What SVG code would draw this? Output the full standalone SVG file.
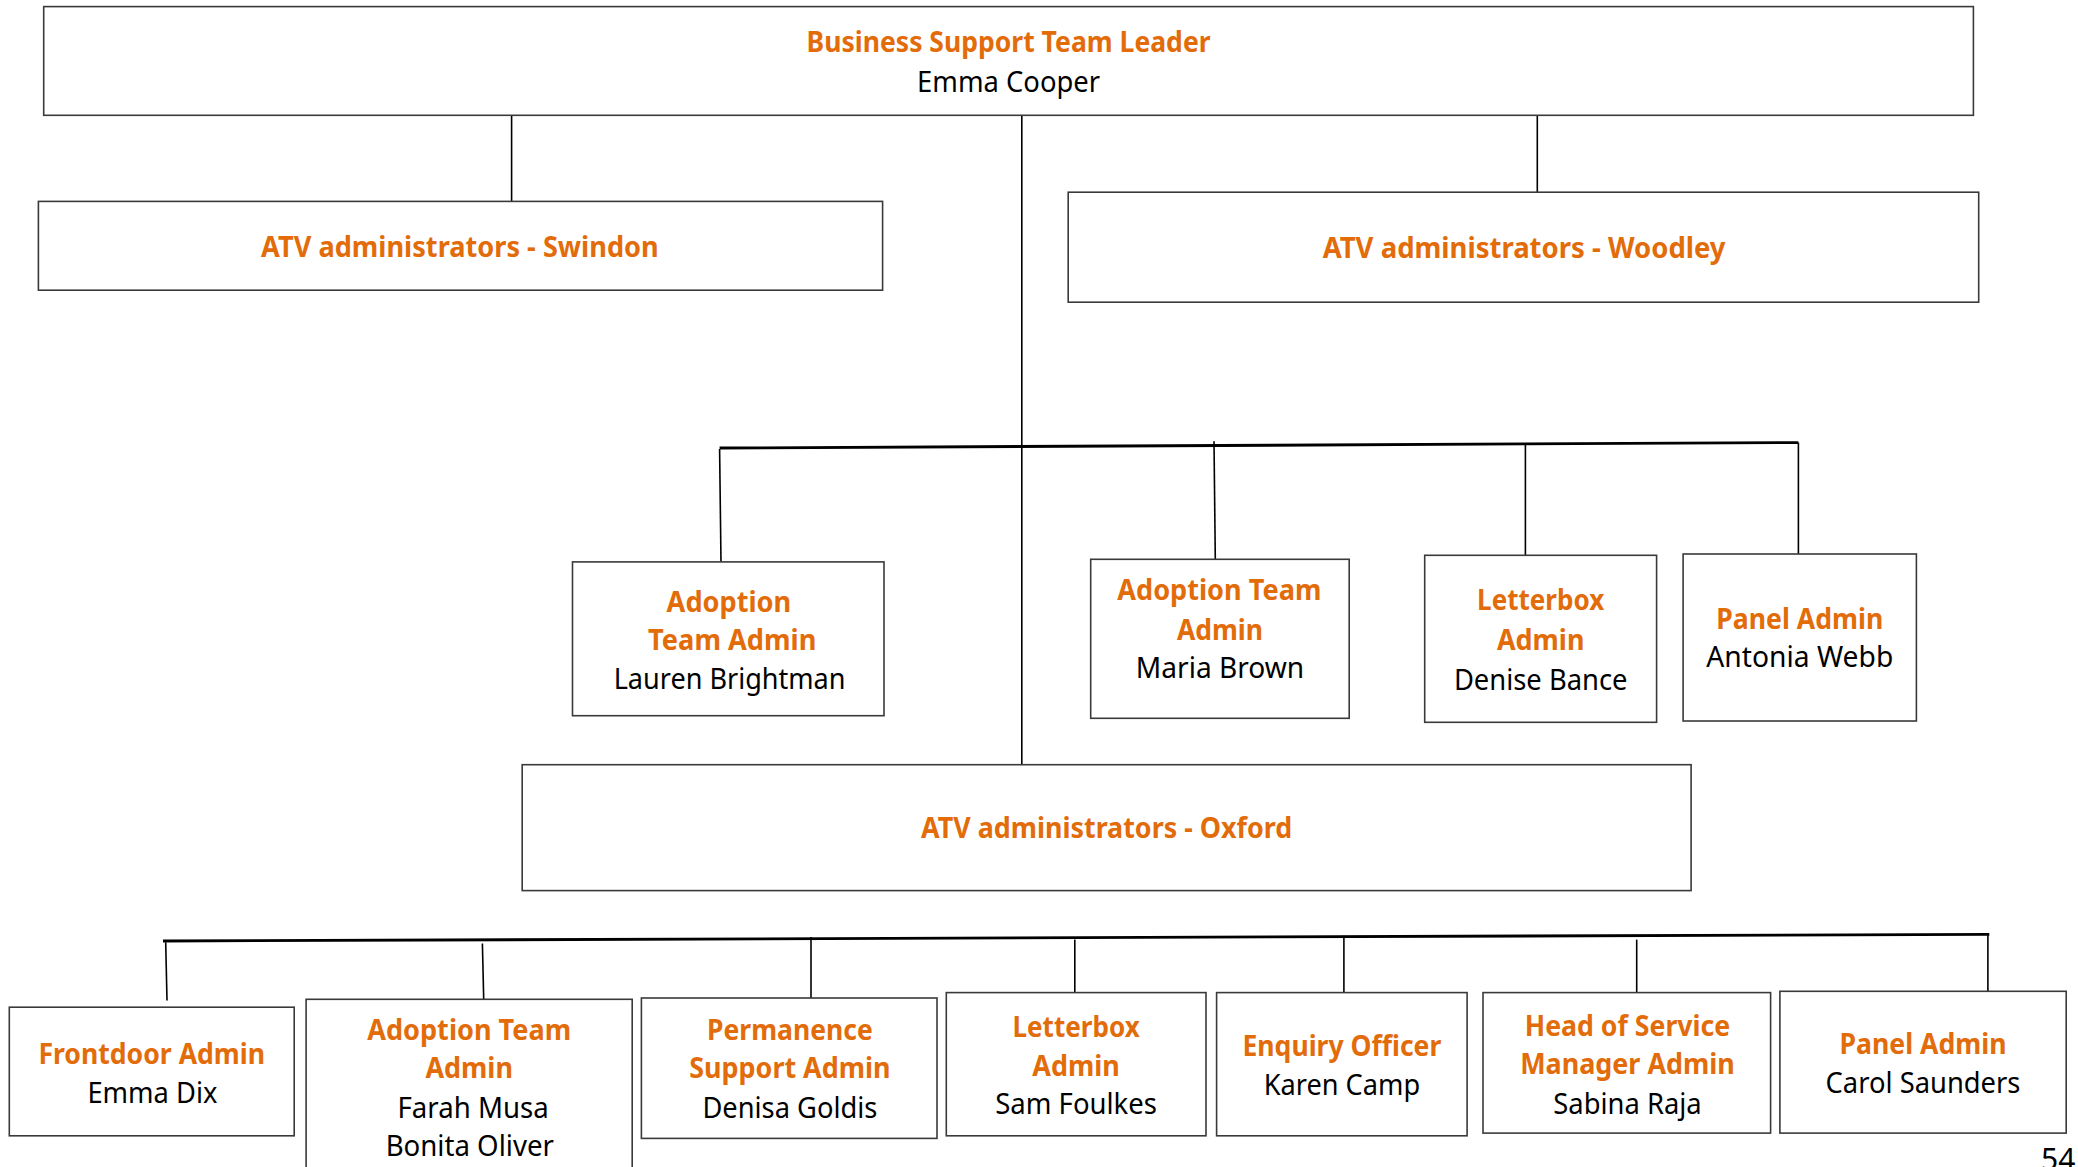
<svg xmlns="http://www.w3.org/2000/svg" width="2078" height="1167" viewBox="0 0 2078 1167">
<style>
.box{fill:#ffffff;stroke:#3a3a3a;stroke-width:1.6}
.t{font-family:"Noto Sans","Open Sans","Liberation Sans",sans-serif;font-size:29px;text-anchor:middle}
.o{fill:#E36C0A;font-weight:bold}
.k{fill:#000000}
.c{stroke:#000000;stroke-width:1.6;fill:none}
.h{stroke:#000000;stroke-width:2.8;fill:none}
</style>
<rect width="2078" height="1167" fill="#ffffff"/>
<g id="connectors">
<line class="c" x1="511.6" y1="115.3" x2="511.6" y2="201.4"/>
<line class="c" x1="1537.3" y1="115.3" x2="1537.3" y2="192.2"/>
<line class="c" x1="1021.8" y1="115.3" x2="1021.8" y2="764.7"/>
<line class="h" x1="719.6" y1="448" x2="1798.4" y2="442.6"/>
<line class="c" x1="719.6" y1="449" x2="721" y2="561.9"/>
<line class="c" x1="1214" y1="441.3" x2="1215.3" y2="559.3"/>
<line class="c" x1="1525.4" y1="444" x2="1525.4" y2="555.3"/>
<line class="c" x1="1798.4" y1="442.6" x2="1798.4" y2="554"/>
<line class="h" x1="163" y1="941" x2="1989.3" y2="934.3"/>
<line class="c" x1="165.7" y1="942.3" x2="167" y2="1000.6"/>
<line class="c" x1="482.4" y1="943.6" x2="483.7" y2="999.3"/>
<line class="c" x1="811" y1="937" x2="811" y2="998"/>
<line class="c" x1="1074.8" y1="939.6" x2="1074.8" y2="992.6"/>
<line class="c" x1="1343.9" y1="935.7" x2="1343.9" y2="992.6"/>
<line class="c" x1="1636.7" y1="939.6" x2="1636.7" y2="992.6"/>
<line class="c" x1="1987.9" y1="933" x2="1987.9" y2="991.3"/>
</g>
<g id="leader">
<rect class="box" x="43.7" y="6.6" width="1929.7" height="108.7"/>
<text class="t o" x="1008.6" y="52" textLength="404" lengthAdjust="spacingAndGlyphs">Business Support Team Leader</text>
<text class="t k" x="1008.6" y="92" textLength="183" lengthAdjust="spacingAndGlyphs">Emma Cooper</text>
</g>
<g id="swindon">
<rect class="box" x="38.4" y="201.4" width="844.2" height="88.8"/>
<text class="t o" x="459.9" y="257" textLength="397.6" lengthAdjust="spacingAndGlyphs">ATV administrators - Swindon</text>
</g>
<g id="woodley">
<rect class="box" x="1068.2" y="192.2" width="910.5" height="110"/>
<text class="t o" x="1524.1" y="258" textLength="402.9" lengthAdjust="spacingAndGlyphs">ATV administrators - Woodley</text>
</g>
<g id="adoption-lauren">
<rect class="box" x="572.5" y="561.9" width="311.5" height="153.8"/>
<text class="t o" x="728.9" y="612" textLength="124.6" lengthAdjust="spacingAndGlyphs">Adoption</text>
<text class="t o" x="732.2" y="650" textLength="168.3" lengthAdjust="spacingAndGlyphs">Team Admin</text>
<text class="t k" x="729.6" y="689" textLength="231.9" lengthAdjust="spacingAndGlyphs">Lauren Brightman</text>
</g>
<g id="adoption-maria">
<rect class="box" x="1090.7" y="559.3" width="258.5" height="159"/>
<text class="t o" x="1219.3" y="600" textLength="204.1" lengthAdjust="spacingAndGlyphs">Adoption Team</text>
<text class="t o" x="1220" y="640" textLength="86.1" lengthAdjust="spacingAndGlyphs">Admin</text>
<text class="t k" x="1220" y="678" textLength="168.3" lengthAdjust="spacingAndGlyphs">Maria Brown</text>
</g>
<g id="letterbox-denise">
<rect class="box" x="1424.7" y="555.3" width="231.9" height="167"/>
<text class="t o" x="1540.7" y="610" textLength="127.2" lengthAdjust="spacingAndGlyphs">Letterbox</text>
<text class="t o" x="1540.7" y="650" textLength="87.5" lengthAdjust="spacingAndGlyphs">Admin</text>
<text class="t k" x="1540.7" y="690" textLength="173.6" lengthAdjust="spacingAndGlyphs">Denise Bance</text>
</g>
<g id="panel-antonia">
<rect class="box" x="1683.1" y="554" width="233.3" height="167"/>
<text class="t o" x="1799.8" y="629" textLength="167" lengthAdjust="spacingAndGlyphs">Panel Admin</text>
<text class="t k" x="1799.8" y="667" textLength="186.9" lengthAdjust="spacingAndGlyphs">Antonia Webb</text>
</g>
<g id="oxford">
<rect class="box" x="522.2" y="764.7" width="1168.9" height="125.9"/>
<text class="t o" x="1106.6" y="838" textLength="371.1" lengthAdjust="spacingAndGlyphs">ATV administrators - Oxford</text>
</g>
<g id="frontdoor">
<rect class="box" x="9.3" y="1007.2" width="284.9" height="128.6"/>
<text class="t o" x="151.7" y="1064" textLength="226.6" lengthAdjust="spacingAndGlyphs">Frontdoor Admin</text>
<text class="t k" x="152.4" y="1103" textLength="129.9" lengthAdjust="spacingAndGlyphs">Emma Dix</text>
</g>
<g id="adoption-farah">
<rect class="box" x="306.1" y="999.3" width="326.1" height="180"/>
<text class="t o" x="469.2" y="1040" textLength="204.1" lengthAdjust="spacingAndGlyphs">Adoption Team</text>
<text class="t o" x="469.2" y="1078" textLength="87.5" lengthAdjust="spacingAndGlyphs">Admin</text>
<text class="t k" x="473.1" y="1118" textLength="151.1" lengthAdjust="spacingAndGlyphs">Farah Musa</text>
<text class="t k" x="469.8" y="1156" textLength="168.3" lengthAdjust="spacingAndGlyphs">Bonita Oliver</text>
</g>
<g id="permanence">
<rect class="box" x="641.4" y="998" width="295.6" height="140.4"/>
<text class="t o" x="789.9" y="1040" textLength="165.7" lengthAdjust="spacingAndGlyphs">Permanence</text>
<text class="t o" x="789.9" y="1078" textLength="201.4" lengthAdjust="spacingAndGlyphs">Support Admin</text>
<text class="t k" x="789.9" y="1118" textLength="174.9" lengthAdjust="spacingAndGlyphs">Denisa Goldis</text>
</g>
<g id="letterbox-sam">
<rect class="box" x="946.3" y="992.6" width="259.7" height="143.2"/>
<text class="t o" x="1076.1" y="1037" textLength="127.2" lengthAdjust="spacingAndGlyphs">Letterbox</text>
<text class="t o" x="1076.1" y="1076" textLength="87.5" lengthAdjust="spacingAndGlyphs">Admin</text>
<text class="t k" x="1076.1" y="1114" textLength="161.7" lengthAdjust="spacingAndGlyphs">Sam Foulkes</text>
</g>
<g id="enquiry">
<rect class="box" x="1216.6" y="992.6" width="250.5" height="143.2"/>
<text class="t o" x="1341.9" y="1056" textLength="198.8" lengthAdjust="spacingAndGlyphs">Enquiry Officer</text>
<text class="t k" x="1341.9" y="1095" textLength="156.4" lengthAdjust="spacingAndGlyphs">Karen Camp</text>
</g>
<g id="head-of-service">
<rect class="box" x="1483" y="992.6" width="287.6" height="140.5"/>
<text class="t o" x="1627.5" y="1036" textLength="205.4" lengthAdjust="spacingAndGlyphs">Head of Service</text>
<text class="t o" x="1627.5" y="1074" textLength="214.7" lengthAdjust="spacingAndGlyphs">Manager Admin</text>
<text class="t k" x="1627.5" y="1114" textLength="148.4" lengthAdjust="spacingAndGlyphs">Sabina Raja</text>
</g>
<g id="panel-carol">
<rect class="box" x="1779.9" y="991.3" width="286.3" height="141.8"/>
<text class="t o" x="1923" y="1054" textLength="167" lengthAdjust="spacingAndGlyphs">Panel Admin</text>
<text class="t k" x="1923" y="1093" textLength="194.8" lengthAdjust="spacingAndGlyphs">Carol Saunders</text>
</g>
<text x="2041" y="1170" font-family="Noto Sans, Liberation Sans, sans-serif" font-size="30" fill="#000000">54</text>
</svg>
